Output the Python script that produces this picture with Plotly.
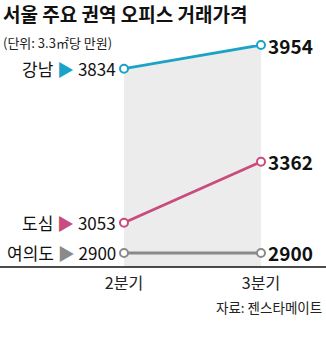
import plotly.graph_objects as go

# Office transaction prices by district (만원 per 3.3㎡)
quarters = ["2분기", "3분기"]
districts = ["강남", "도심", "여의도"]
q2_prices = [3834, 3053, 2900]
q3_prices = [3954, 3362, 2900]
colors = ["#1ba3c6", "#c84b7c", "#8a8a8a"]

FONT = "Noto Sans CJK KR"
xs = [0, 1]
Y_MIN = 2829

fig = go.Figure()

# shaded band under the top series between the two quarters
fig.add_trace(go.Scatter(
    x=xs, y=[q2_prices[0], q3_prices[0]], mode="none",
    fill="tozeroy", fillcolor="#ececec", hoverinfo="skip", showlegend=False,
))

for name, a, b, c in zip(districts, q2_prices, q3_prices, colors):
    fig.add_trace(go.Scatter(
        x=xs, y=[a, b], mode="lines+markers", name=name,
        line=dict(color=c, width=2.8),
        marker=dict(size=8, color="white", line=dict(color=c, width=2)),
        cliponaxis=False, showlegend=False,
    ))
    fig.add_annotation(
        x=0, y=a, xref="x", yref="y", xanchor="right", yanchor="middle",
        xshift=-6, showarrow=False,
        text=f"{name} <span style='color:{c}'>▶</span> {a}",
        font=dict(family=FONT, size=17, color="#111"),
    )
    fig.add_annotation(
        x=1, y=b, xref="x", yref="y", xanchor="left", yanchor="middle",
        xshift=5, showarrow=False, text=f"<b>{b}</b>",
        font=dict(family=FONT, size=19, color="#111"),
    )

# dotted guides from the top series down to the baseline
for i, v in enumerate([q2_prices[0], q3_prices[0]]):
    fig.add_shape(type="line", xref="x", yref="y", x0=xs[i], x1=xs[i],
                  y0=Y_MIN, y1=v, layer="below",
                  line=dict(color="#aaaaaa", width=1, dash="dot"))

# baseline across the full width
plot_w = 137
fig.add_shape(type="line", xref="paper", yref="paper",
              x0=-124 / plot_w, x1=1 + 65 / plot_w, y0=0, y1=0,
              line=dict(color="#111", width=1.3))

fig.add_annotation(xref="paper", yref="paper", showarrow=False,
                   x=-123 / plot_w, y=1, xanchor="left", yanchor="top",
                   yshift=47, text="<b>서울 주요 권역 오피스 거래가격</b>",
                   font=dict(family=FONT, size=19, color="#111"))
fig.add_annotation(xref="paper", yref="paper", showarrow=False,
                   x=-123 / plot_w, y=1, xanchor="left", yanchor="top",
                   yshift=14, text="(단위: 3.3㎡당 만원)",
                   font=dict(family=FONT, size=13, color="#222"))
fig.add_annotation(xref="paper", yref="paper", showarrow=False,
                   x=1 + 63 / plot_w, y=0, xanchor="right", yanchor="top",
                   yshift=-28, text="자료: 젠스타메이트",
                   font=dict(family=FONT, size=13.5, color="#222"))

fig.update_xaxes(range=[0, 1], tickvals=xs, ticktext=quarters,
                 showgrid=False, zeroline=False, showline=False,
                 ticks="", ticklabelstandoff=5,
                 tickfont=dict(family=FONT, size=16, color="#222"))
fig.update_yaxes(range=[Y_MIN, 3954], showgrid=False, zeroline=False,
                 showticklabels=False, showline=False)

fig.update_layout(
    width=326, height=351,
    margin=dict(l=124, r=65, t=45, b=84),
    paper_bgcolor="white", plot_bgcolor="white",
    font=dict(family=FONT),
)

fig.write_html("out.html")
